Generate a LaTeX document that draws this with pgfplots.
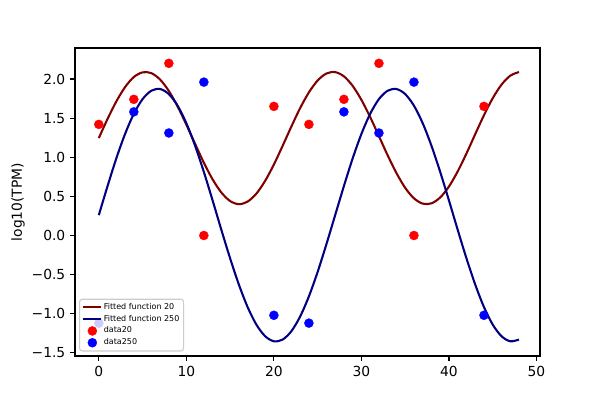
\documentclass[border=0pt]{standalone}
\usepackage{fontspec}
\setmainfont{DejaVu Sans}
\usepackage{pgfplots}
\pgfplotsset{compat=1.18}
\definecolor{fitred}{HTML}{800000}
\definecolor{fitblue}{HTML}{000080}
\definecolor{dred}{HTML}{FF0000}
\definecolor{dblue}{HTML}{0000FF}
\definecolor{legframe}{HTML}{CCCCCC}
\pgfplotsset{
  lineleg/.style={legend image code/.code={\draw[##1, opacity=1] (0pt,0pt) -- (13pt,0pt);}},
  markleg/.style={legend image code/.code={\begin{scope}[opacity=1]\draw[##1] plot coordinates {(6.5pt,0pt)};\end{scope}}},
}
\begin{document}
\begin{tikzpicture}
\path (-0.75in,-0.44in) rectangle (5.25in,3.56in);
\begin{axis}[
  at={(0,0)}, anchor=south west,
  scale only axis, width=4.65in, height=3.08in,
  xmin=-2.72, xmax=50.4, ymin=-1.54, ymax=2.396,
  xtick={0,10,20,30,40,50},
  ytick={-1.5,-1,-0.5,0,0.5,1,1.5,2},
  yticklabels={−1.5,−1.0,−0.5,0.0,0.5,1.0,1.5,2.0},
  tick align=outside, tick pos=left,
  major tick length=3.5pt,
  every tick/.style={black, line width=0.8pt},
  axis line style={line width=0.8pt},
  tick label style={font=\fontsize{10}{12}\selectfont},
  /pgf/number format/assume math mode=true,
  ylabel={log10(TPM)},
  ylabel style={font=\fontsize{10}{12}\selectfont, at={(axis description cs:-0.1226,0.5)}, anchor=center},
  legend cell align=left,
  legend style={at={(0.0086,0.0146)}, anchor=south west,
    font=\fontsize{5.79}{6.5}\selectfont,
    draw=legframe, line width=0.8pt, rounded corners=2pt,
    fill=white, fill opacity=0.8, text opacity=1,
    inner sep=2pt, row sep=0.6pt, nodes={inner sep=1pt}},
]
\addplot[fitred, line width=1.5pt, smooth, lineleg] coordinates {
(0,1.245) (1,1.490) (2,1.713) (3,1.897) (4,2.025) (5,2.085) (6,2.075) (7,1.993)
(8,1.847) (9,1.650) (10,1.417) (11,1.171) (12,0.930) (13,0.717) (14,0.549)
(15,0.440) (16,0.400) (17,0.433) (18,0.535) (19,0.698) (20,0.907) (21,1.146)
(22,1.393) (23,1.628) (24,1.829) (25,1.981) (26,2.070) (27,2.088) (28,2.034)
(29,1.912) (30,1.733) (31,1.513) (32,1.270) (33,1.024) (34,0.798) (35,0.609)
(36,0.475) (37,0.407) (38,0.411) (39,0.486) (40,0.626) (41,0.819) (42,1.048)
(43,1.295) (44,1.537) (45,1.754) (46,1.927) (47,2.042) (48,2.089)
};
\addlegendentry{Fitted function 20}
\addplot[fitblue, line width=1.5pt, smooth, lineleg] coordinates {
(0,0.260) (1,0.632) (2,0.985) (3,1.298) (4,1.555) (5,1.743) (6,1.850) (7,1.872)
(8,1.807) (9,1.659) (10,1.435) (11,1.147) (12,0.812) (13,0.448) (14,0.072)
(15,-0.292) (16,-0.627) (17,-0.915) (18,-1.139) (19,-1.287) (20,-1.352)
(21,-1.330) (22,-1.223) (23,-1.035) (24,-0.778) (25,-0.465) (26,-0.112)
(27,0.260) (28,0.632) (29,0.985) (30,1.298) (31,1.555) (32,1.743) (33,1.850)
(34,1.872) (35,1.807) (36,1.659) (37,1.435) (38,1.147) (39,0.812) (40,0.448)
(41,0.072) (42,-0.292) (43,-0.627) (44,-0.915) (45,-1.139) (46,-1.287)
(47,-1.352) (48,-1.330)
};
\addlegendentry{Fitted function 250}
\addplot[only marks, mark=*, mark size=3.3pt, mark options={fill=dred, draw=dred, line width=0.2pt}, markleg] coordinates {
(0,1.42) (4,1.74) (8,2.20) (12,0.00) (20,1.65) (24,1.42) (28,1.74) (32,2.20) (36,0.00) (44,1.65)
};
\addlegendentry{data20}
\addplot[only marks, mark=*, mark size=3.3pt, mark options={fill=dblue, draw=dblue, line width=0.2pt}, markleg] coordinates {
(0,-1.12) (4,1.58) (8,1.31) (12,1.96) (20,-1.02) (24,-1.12) (28,1.58) (32,1.31) (36,1.96) (44,-1.02)
};
\addlegendentry{data250}
\end{axis}
\end{tikzpicture}
\end{document}
